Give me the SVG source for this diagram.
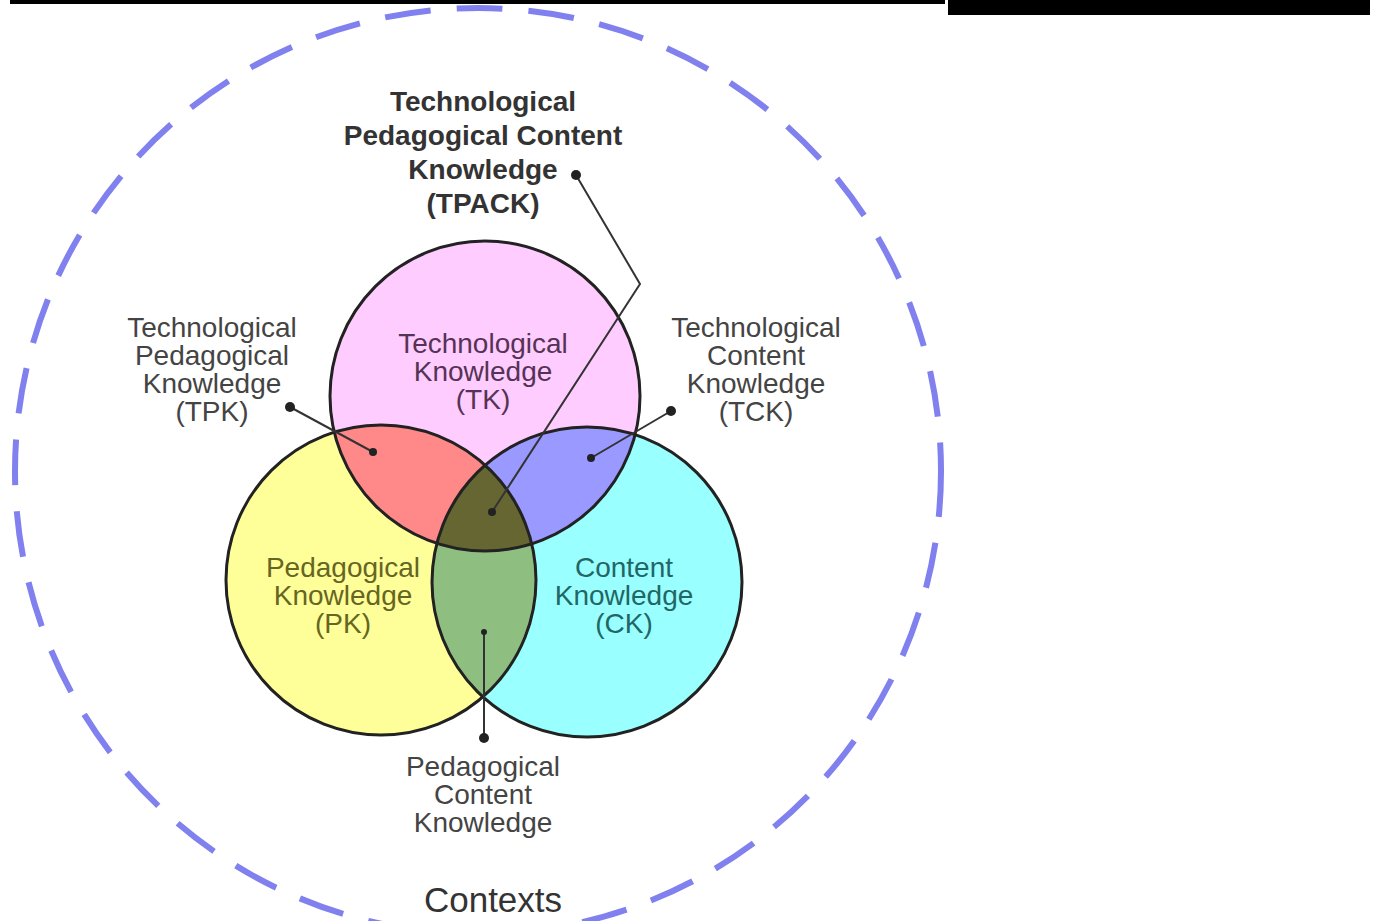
<svg xmlns="http://www.w3.org/2000/svg" width="1383" height="921" viewBox="0 0 1383 921">
<style>
.lbl{font-family:"Liberation Sans",Arial,sans-serif;font-size:28px;text-anchor:middle;fill:#444}
.ttl{font-family:"Liberation Sans",Arial,sans-serif;font-size:28px;font-weight:bold;text-anchor:middle;fill:#333}
.ring{stroke:#222;stroke-width:3;fill:none}
.con{stroke:#333;stroke-width:2;fill:none}
.dot{fill:#222}
</style>
<defs>
<clipPath id="cTK"><circle cx="485" cy="396" r="155"/></clipPath>
<clipPath id="cPK"><circle cx="381" cy="580" r="155"/></clipPath>
<clipPath id="cCK"><circle cx="587" cy="582" r="155"/></clipPath>
</defs>
<rect width="1383" height="921" fill="#ffffff"/>
<g id="artifacts">
<rect x="10" y="0" width="935" height="4" fill="#000"/>
<rect x="948" y="0" width="422" height="15" fill="#000"/>
</g>
<g id="contexts">
<circle cx="478" cy="471" r="463" fill="none" stroke="#8080ee" stroke-width="6" stroke-dasharray="46 26"/>
<text x="493" y="912" class="lbl" style="font-size:35px;fill:#333">Contexts</text>
</g>
<g id="circles">
<circle id="TK" cx="485" cy="396" r="155" fill="#ffccff"/>
<circle id="PK" cx="381" cy="580" r="155" fill="#ffff99"/>
<circle id="CK" cx="587" cy="582" r="155" fill="#99ffff"/>
<g clip-path="url(#cTK)"><circle cx="381" cy="580" r="155" fill="#ff8888"/><circle cx="587" cy="582" r="155" fill="#9999ff"/></g>
<g clip-path="url(#cPK)"><circle cx="587" cy="582" r="155" fill="#8fbf80"/></g>
<g clip-path="url(#cTK)"><g clip-path="url(#cPK)"><circle cx="587" cy="582" r="155" fill="#666633"/></g></g>
<circle class="ring" cx="485" cy="396" r="155"/>
<circle class="ring" cx="381" cy="580" r="155"/>
<circle class="ring" cx="587" cy="582" r="155"/>
</g>
<g id="connectors">
<polyline class="con" points="576,175 640,284 492,512"/>
<line class="con" x1="290" y1="407" x2="373" y2="452"/>
<line class="con" x1="671" y1="411" x2="591" y2="458"/>
<line class="con" x1="484" y1="738" x2="484" y2="632"/>
<circle class="dot" cx="576" cy="175" r="5"/>
<circle class="dot" cx="492" cy="512" r="4"/>
<circle class="dot" cx="290" cy="407" r="5"/>
<circle class="dot" cx="373" cy="452" r="4"/>
<circle class="dot" cx="671" cy="411" r="5"/>
<circle class="dot" cx="591" cy="458" r="4"/>
<circle class="dot" cx="484" cy="738" r="5"/>
<circle class="dot" cx="484" cy="632" r="3"/>
</g>
<g id="TPACK-label">
<text class="ttl" x="483" y="111">Technological</text>
<text class="ttl" x="483" y="145">Pedagogical Content</text>
<text class="ttl" x="483" y="179">Knowledge</text>
<text class="ttl" x="483" y="213">(TPACK)</text>
</g>
<g id="TPK-label">
<text class="lbl" x="212" y="337">Technological</text>
<text class="lbl" x="212" y="365">Pedagogical</text>
<text class="lbl" x="212" y="393">Knowledge</text>
<text class="lbl" x="212" y="421">(TPK)</text>
</g>
<g id="TCK-label">
<text class="lbl" x="756" y="337">Technological</text>
<text class="lbl" x="756" y="365">Content</text>
<text class="lbl" x="756" y="393">Knowledge</text>
<text class="lbl" x="756" y="421">(TCK)</text>
</g>
<g id="TK-label">
<text class="lbl" x="483" y="353" style="fill:#553355">Technological</text>
<text class="lbl" x="483" y="381" style="fill:#553355">Knowledge</text>
<text class="lbl" x="483" y="409" style="fill:#553355">(TK)</text>
</g>
<g id="PK-label">
<text class="lbl" x="343" y="577" style="fill:#666622">Pedagogical</text>
<text class="lbl" x="343" y="605" style="fill:#666622">Knowledge</text>
<text class="lbl" x="343" y="633" style="fill:#666622">(PK)</text>
</g>
<g id="CK-label">
<text class="lbl" x="624" y="577" style="fill:#226666">Content</text>
<text class="lbl" x="624" y="605" style="fill:#226666">Knowledge</text>
<text class="lbl" x="624" y="633" style="fill:#226666">(CK)</text>
</g>
<g id="PCK-label">
<text class="lbl" x="483" y="776">Pedagogical</text>
<text class="lbl" x="483" y="804">Content</text>
<text class="lbl" x="483" y="832">Knowledge</text>
</g>
</svg>
